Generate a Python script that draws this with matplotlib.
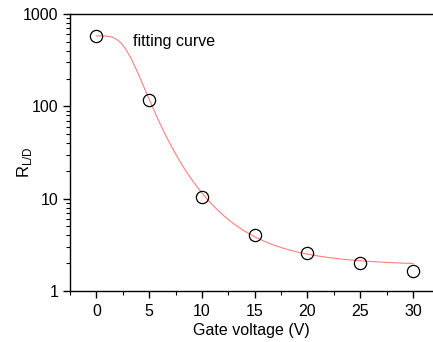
import numpy as np
import matplotlib
matplotlib.use("Agg")
import matplotlib.pyplot as plt
from matplotlib.ticker import LogLocator, NullFormatter, FixedLocator

# Data
gate_voltage = [0, 5, 10, 15, 20, 25, 30]
r_ld = [578, 118, 10.4, 4.0, 2.58, 1.99, 1.63]

# Logistic fit parameters (Origin "Logistic": y = A2 + (A1-A2)/(1+(x/x0)^p))
fit_A1 = 580.0
fit_A2 = 1.85
fit_x0 = 3.52
fit_p = 3.9

plt.rcParams['font.family'] = ['Liberation Sans', 'DejaVu Sans']
FS = 11.5

fig = plt.figure(figsize=(4.33, 3.42), dpi=100)
ax = fig.add_axes([70/433, 1-291/342, 363/433, (291-14)/342])

xf = np.linspace(0, 30, 400)
yf = fit_A2 + (fit_A1 - fit_A2) / (1 + (xf / fit_x0) ** fit_p)
ax.plot(xf, yf, color='#ff7f7f', lw=0.8, zorder=2)
ax.plot(gate_voltage, r_ld, 'o', mfc='none', mec='black', mew=0.9, ms=8.8, zorder=3)

ax.set_yscale('log')
ax.set_ylim(1, 1000)
ax.set_xlim(-2.5, 31.9)
ax.xaxis.set_major_locator(FixedLocator([0, 5, 10, 15, 20, 25, 30]))
ax.xaxis.set_minor_locator(FixedLocator([-2.5, 2.5, 7.5, 12.5, 17.5, 22.5, 27.5]))
ax.yaxis.set_major_locator(FixedLocator([1, 10, 100, 1000]))
ax.set_yticklabels(['1', '10', '100', '1000'])
ax.yaxis.set_minor_locator(LogLocator(base=10, subs=np.arange(2, 10)))
ax.yaxis.set_minor_formatter(NullFormatter())

ax.spines['right'].set_visible(False)
for s in ['left', 'bottom', 'top']:
    ax.spines[s].set_linewidth(1.0)
ax.tick_params(which='major', direction='out', length=5, width=1.0, labelsize=FS)
ax.tick_params(axis='x', which='major', pad=4.5)
ax.tick_params(axis='y', which='major', pad=3.5)
ax.tick_params(which='minor', direction='out', length=3, width=0.8)
ax.tick_params(top=False, right=False, which='both')

ax.set_xlabel('Gate voltage (V)', fontsize=FS, labelpad=3)
fig.text(25/433, 1-162/342, r'R$_{\mathregular{L/D}}$', fontsize=FS + 0.5,
         rotation=90, ha='center', va='center')

ax.text(3.5, 500, 'fitting curve', fontsize=FS, va='center', ha='left')

fig.savefig('out.png', dpi=100)
